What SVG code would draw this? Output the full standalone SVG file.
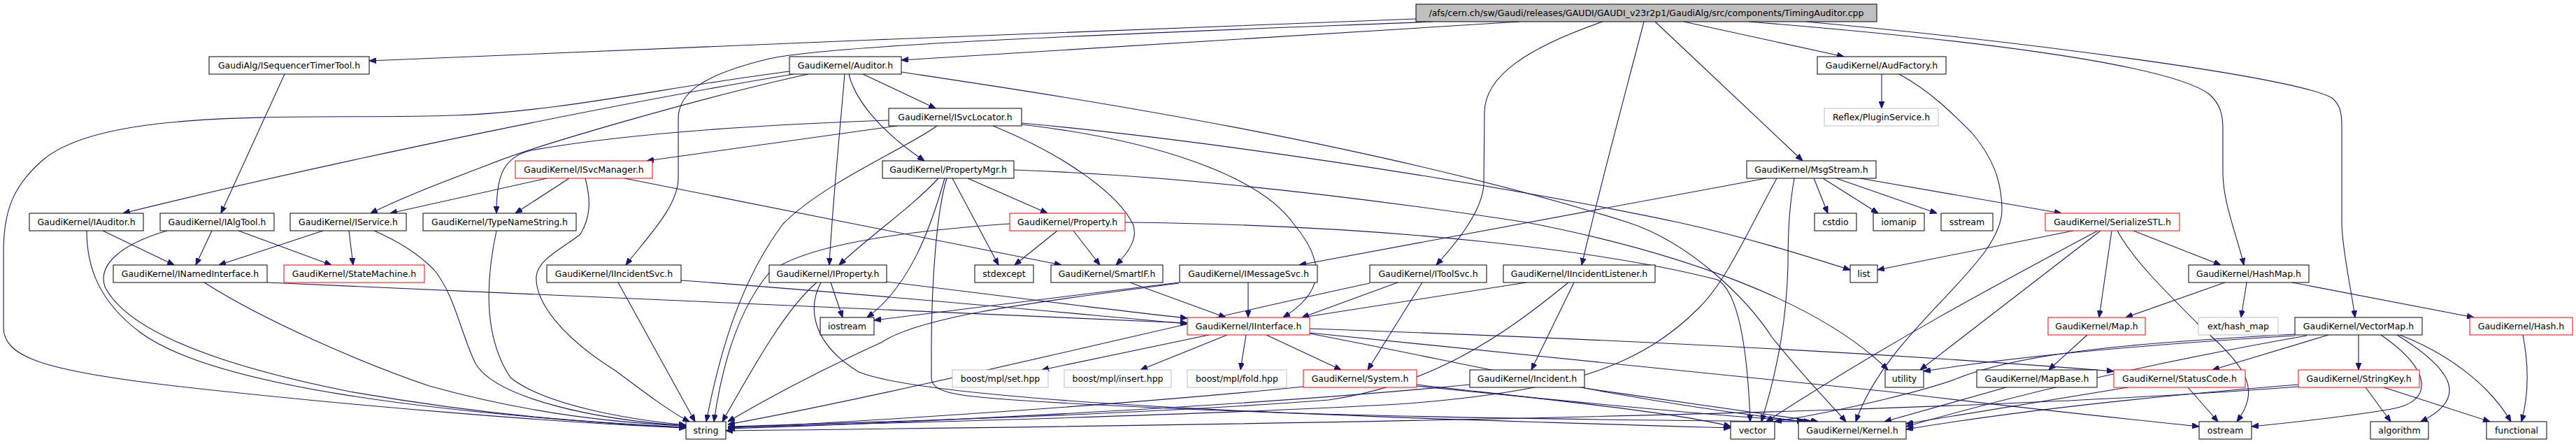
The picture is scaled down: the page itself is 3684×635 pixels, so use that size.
<svg xmlns="http://www.w3.org/2000/svg" width="3684" height="635" viewBox="0 0 3684 635">
<style>
.n rect{fill:#fff;stroke:#000;stroke-width:1}
.n.r rect{stroke:#ff0000}
.n.g rect{stroke:#bfbfbf}
.n.root rect{fill:#bfbfbf}
.n text{font-family:"DejaVu Sans",sans-serif;font-size:12.5px;text-anchor:middle;fill:#000}
#edges path{fill:none;stroke:#191970;stroke-width:1.1;marker-end:url(#a)}
</style>
<defs>
<marker id="a" viewBox="0 0 10 8" refX="10" refY="4" markerWidth="10" markerHeight="8" markerUnits="userSpaceOnUse" orient="auto"><path d="M0,0 L10,4 L0,8 z" fill="#191970" stroke="#191970" stroke-width="1"/></marker>
</defs>
<rect width="3684" height="635" fill="#fff"/>
<g id="edges">
<path d="M2025,27 C1700,37 900,72 528,87"/>
<path d="M2173,31 C1900,48 1550,70 1289,86"/>
<path d="M2049,31 C1700,45 1200,62 1100,84 C1000,108 970,135 970,170 L970,255 C970,295 925,340 895,379"/>
<path d="M2292,31 C2180,70 2124,110 2123,160 L2122,262 C2121,300 2085,345 2054,379"/>
<path d="M2351,31 C2320,150 2290,260 2262,379"/>
<path d="M2367,31 L2578,230"/>
<path d="M2408,31 L2637,81"/>
<path d="M2501,31 C2800,55 3100,90 3160,135 C3176,150 3179,165 3179,185 L3179,247 C3179,290 3200,340 3209,379"/>
<path d="M2583,31 C2900,60 3280,110 3335,140 C3347,150 3349,162 3349,180 L3349,320 C3350,360 3362,410 3368,454"/>
<path d="M407,106 L316,305"/>
<path d="M1135,106 C900,145 500,225 176,305"/>
<path d="M1156,106 C1000,140 760,210 700,235 C640,258 580,280 530,305"/>
<path d="M782,255 L558,305"/>
<path d="M1234,106 L1338,155"/>
<path d="M1214,106 C1222,140 1255,185 1322,230"/>
<path d="M1208,106 C1200,200 1190,300 1186,379"/>
<path d="M1129,102 C950,125 800,160 650,165 C450,172 150,150 60,230 C20,265 5,300 5,360 L5,468 C5,510 60,530 250,552 C500,580 800,605 981,612"/>
<path d="M1289,103 C1500,135 1950,200 2328,318 C2420,348 2500,430 2534,482 C2580,540 2620,580 2640,603"/>
<path d="M1271,172 C1100,178 900,190 760,215 C715,225 710,260 710,305"/>
<path d="M1283,180 L925,230"/>
<path d="M1340,180 C1300,210 1180,260 1120,320 C1060,400 1030,500 1010,603"/>
<path d="M1420,180 C1530,225 1600,280 1620,320 C1628,340 1615,360 1596,379"/>
<path d="M1461,176 C1700,198 2100,255 2400,318 C2500,340 2580,365 2646,386"/>
<path d="M1461,178 C1650,200 1800,250 1850,320 C1900,380 1890,420 1835,454"/>
<path d="M1342,255 C1300,300 1240,340 1200,379"/>
<path d="M1351,255 C1330,330 1300,410 1240,454"/>
<path d="M1354,255 C1340,300 1332,400 1332,500 L1332,540 C1332,560 1360,566 1450,572 C1800,595 2200,600 2585,603"/>
<path d="M1362,255 L1428,379"/>
<path d="M1384,255 L1498,305"/>
<path d="M1450,243 C1650,250 1900,275 2183,318 C2400,360 2600,430 2700,529"/>
<path d="M814,255 L737,305"/>
<path d="M837,255 C845,285 845,310 830,335 C805,355 770,370 767,395 C765,430 800,480 880,530 C920,560 960,590 986,603"/>
<path d="M893,255 L1518,379"/>
<path d="M147,330 L249,379"/>
<path d="M124,330 C124,380 140,430 200,475 C300,550 600,590 981,612"/>
<path d="M303,330 L280,379"/>
<path d="M341,330 L474,379"/>
<path d="M239,330 C170,350 140,380 150,410 C180,470 300,520 500,560 C700,595 850,605 981,611"/>
<path d="M462,330 L313,379"/>
<path d="M499,330 L505,379"/>
<path d="M535,330 C570,345 600,365 620,385 C650,420 660,480 680,520 C710,570 850,600 981,609"/>
<path d="M382,404 C900,430 1400,445 1698,462"/>
<path d="M292,404 C380,460 520,520 614,552 C750,590 880,605 981,609"/>
<path d="M710,330 C695,400 690,480 730,540 C780,580 900,600 981,608"/>
<path d="M884,404 L994,603"/>
<path d="M974,401 C1300,425 1550,450 1698,463"/>
<path d="M1268,403 C1450,425 1600,445 1698,455"/>
<path d="M1168,404 C1125,440 1080,520 1033,603"/>
<path d="M1174,404 C1155,440 1160,490 1228,532 C1350,580 2000,598 2475,612"/>
<path d="M1188,404 L1205,454"/>
<path d="M1512,330 L1451,379"/>
<path d="M1535,330 L1573,379"/>
<path d="M1444,320 C1300,330 1150,350 1100,390 C1050,450 1030,540 1021,603"/>
<path d="M1609,318 C2000,322 2300,360 2456,400 C2490,420 2500,520 2503,603"/>
<path d="M1616,404 L1753,454"/>
<path d="M1785,404 L1785,454"/>
<path d="M1686,404 L1250,458"/>
<path d="M1686,405 C1500,430 1320,450 1260,490 C1150,540 1080,580 1041,603"/>
<path d="M1999,404 L1862,454"/>
<path d="M1959,405 C1700,460 1300,560 1041,607"/>
<path d="M2034,404 L1956,529"/>
<path d="M2183,404 L1862,454"/>
<path d="M2251,404 L2190,529"/>
<path d="M2243,404 C2150,480 2050,550 1900,572 C1600,595 1200,605 1041,610"/>
<path d="M1729,479 L1490,529"/>
<path d="M1755,479 L1631,529"/>
<path d="M1782,479 L1774,529"/>
<path d="M1811,479 L1918,529"/>
<path d="M1873,470 C2300,485 2700,505 3023,531"/>
<path d="M1873,476 C2200,510 2456,535 2700,560 C2900,585 3050,600 3145,610"/>
<path d="M1873,477 C2100,520 2300,570 2580,603"/>
<path d="M1864,553 C1600,580 1200,605 1041,612"/>
<path d="M2026,550 C2200,570 2400,590 2475,610"/>
<path d="M2026,552 C2300,580 2500,598 2590,603"/>
<path d="M2102,550 C1800,580 1300,605 1041,613"/>
<path d="M2266,555 C2400,575 2550,595 2600,603"/>
<path d="M2691,106 L2691,155"/>
<path d="M2716,106 C2760,130 2790,160 2820,190 C2850,225 2863,260 2863,300 C2863,380 2700,470 2654,603"/>
<path d="M2526,255 L1858,379"/>
<path d="M2541,255 C2500,330 2470,400 2430,440 C2350,520 2250,560 2000,578 C1700,595 1200,607 1041,611"/>
<path d="M2566,255 C2560,290 2557,320 2557,380 C2555,450 2545,520 2519,603"/>
<path d="M2594,255 L2614,305"/>
<path d="M2607,255 L2686,305"/>
<path d="M2626,255 L2770,305"/>
<path d="M2660,255 L2948,305"/>
<path d="M2965,330 L2685,386"/>
<path d="M3000,330 C2850,410 2700,490 2526,603"/>
<path d="M3004,330 L2746,529"/>
<path d="M3020,330 L3002,454"/>
<path d="M3028,330 C3050,370 3090,410 3150,470 C3220,530 3230,560 3199,603"/>
<path d="M3051,330 L3176,379"/>
<path d="M3182,404 L3040,454"/>
<path d="M3213,404 L3205,454"/>
<path d="M3278,404 L3538,454"/>
<path d="M2985,479 L2930,529"/>
<path d="M2869,554 L2695,603"/>
<path d="M3043,554 L2726,606"/>
<path d="M3129,554 L3172,603"/>
<path d="M3330,479 L3164,529"/>
<path d="M3373,479 L3373,529"/>
<path d="M3405,479 C3480,530 3480,575 3420,585 C3350,597 3270,605 3220,610"/>
<path d="M3428,479 C3510,530 3530,570 3462,603"/>
<path d="M3432,479 C3500,505 3560,550 3591,603"/>
<path d="M3282,478 C3100,488 2900,500 2797,542 C2760,556 2650,585 2538,603"/>
<path d="M3282,480 C3000,497 2850,515 2751,531"/>
<path d="M3299,480 C3100,515 2900,560 2726,610"/>
<path d="M3383,554 L3419,603"/>
<path d="M3409,554 L3561,603"/>
<path d="M3287,550 C3100,565 2900,585 2726,614"/>
<path d="M3287,553 C3000,575 2500,600 1038,616"/>
<path d="M3608,479 C3618,530 3615,570 3606,603"/>
</g>
<g id="n_root" class="n root"><rect x="2025" y="6" width="659" height="25"/><text x="2354.5" y="23">/afs/cern.ch/sw/Gaudi/releases/GAUDI/GAUDI_v23r2p1/GaudiAlg/src/components/TimingAuditor.cpp</text></g>
<g id="n_istt" class="n"><rect x="299" y="81" width="229" height="25"/><text x="413.5" y="98">GaudiAlg/ISequencerTimerTool.h</text></g>
<g id="n_auditor" class="n"><rect x="1129" y="81" width="160" height="25"/><text x="1209" y="98">GaudiKernel/Auditor.h</text></g>
<g id="n_audfactory" class="n"><rect x="2599" y="81" width="184" height="25"/><text x="2691" y="98">GaudiKernel/AudFactory.h</text></g>
<g id="n_isvclocator" class="n"><rect x="1271" y="155" width="190" height="25"/><text x="1366" y="172">GaudiKernel/ISvcLocator.h</text></g>
<g id="n_plugin" class="n g"><rect x="2609" y="155" width="163" height="25"/><text x="2690.5" y="172">Reflex/PluginService.h</text></g>
<g id="n_isvcmanager" class="n r"><rect x="737" y="230" width="196" height="25"/><text x="835" y="247">GaudiKernel/ISvcManager.h</text></g>
<g id="n_propertymgr" class="n"><rect x="1262" y="230" width="188" height="25"/><text x="1356" y="247">GaudiKernel/PropertyMgr.h</text></g>
<g id="n_msgstream" class="n"><rect x="2498" y="230" width="185" height="25"/><text x="2590.5" y="247">GaudiKernel/MsgStream.h</text></g>
<g id="n_iauditor" class="n"><rect x="42" y="305" width="163" height="25"/><text x="123.5" y="322">GaudiKernel/IAuditor.h</text></g>
<g id="n_ialgtool" class="n"><rect x="229" y="305" width="163" height="25"/><text x="310.5" y="322">GaudiKernel/IAlgTool.h</text></g>
<g id="n_iservice" class="n"><rect x="415" y="305" width="166" height="25"/><text x="498" y="322">GaudiKernel/IService.h</text></g>
<g id="n_typename" class="n"><rect x="605" y="305" width="219" height="25"/><text x="714.5" y="322">GaudiKernel/TypeNameString.h</text></g>
<g id="n_property" class="n r"><rect x="1444" y="305" width="165" height="25"/><text x="1526.5" y="322">GaudiKernel/Property.h</text></g>
<g id="n_cstdio" class="n"><rect x="2595" y="305" width="60" height="25"/><text x="2625" y="322">cstdio</text></g>
<g id="n_iomanip" class="n"><rect x="2679" y="305" width="73" height="25"/><text x="2715.5" y="322">iomanip</text></g>
<g id="n_sstream" class="n"><rect x="2776" y="305" width="74" height="25"/><text x="2813" y="322">sstream</text></g>
<g id="n_serialize" class="n r"><rect x="2925" y="305" width="192" height="25"/><text x="3021" y="322">GaudiKernel/SerializeSTL.h</text></g>
<g id="n_inamed" class="n"><rect x="162" y="379" width="220" height="25"/><text x="272" y="396">GaudiKernel/INamedInterface.h</text></g>
<g id="n_statemachine" class="n r"><rect x="406" y="379" width="201" height="25"/><text x="506.5" y="396">GaudiKernel/StateMachine.h</text></g>
<g id="n_iincsvc" class="n"><rect x="782" y="379" width="192" height="25"/><text x="878" y="396">GaudiKernel/IIncidentSvc.h</text></g>
<g id="n_iproperty" class="n"><rect x="1100" y="379" width="168" height="25"/><text x="1184" y="396">GaudiKernel/IProperty.h</text></g>
<g id="n_stdexcept" class="n"><rect x="1394" y="379" width="84" height="25"/><text x="1436" y="396">stdexcept</text></g>
<g id="n_smartif" class="n"><rect x="1503" y="379" width="160" height="25"/><text x="1583" y="396">GaudiKernel/SmartIF.h</text></g>
<g id="n_imsgsvc" class="n"><rect x="1687" y="379" width="197" height="25"/><text x="1785.5" y="396">GaudiKernel/IMessageSvc.h</text></g>
<g id="n_itoolsvc" class="n"><rect x="1959" y="379" width="167" height="25"/><text x="2042.5" y="396">GaudiKernel/IToolSvc.h</text></g>
<g id="n_iinclist" class="n"><rect x="2150" y="379" width="217" height="25"/><text x="2258.5" y="396">GaudiKernel/IIncidentListener.h</text></g>
<g id="n_list" class="n"><rect x="2646" y="379" width="39" height="25"/><text x="2665.5" y="396">list</text></g>
<g id="n_hashmap" class="n"><rect x="3130" y="379" width="172" height="25"/><text x="3216" y="396">GaudiKernel/HashMap.h</text></g>
<g id="n_iostream" class="n"><rect x="1173" y="454" width="77" height="25"/><text x="1211.5" y="471">iostream</text></g>
<g id="n_iinterface" class="n r"><rect x="1698" y="454" width="175" height="25"/><text x="1785.5" y="471">GaudiKernel/IInterface.h</text></g>
<g id="n_map" class="n r"><rect x="2929" y="454" width="139" height="25"/><text x="2998.5" y="471">GaudiKernel/Map.h</text></g>
<g id="n_exthash" class="n g"><rect x="3144" y="454" width="114" height="25"/><text x="3201" y="471">ext/hash_map</text></g>
<g id="n_vectormap" class="n"><rect x="3282" y="454" width="182" height="25"/><text x="3373" y="471">GaudiKernel/VectorMap.h</text></g>
<g id="n_hash" class="n r"><rect x="3532" y="454" width="147" height="25"/><text x="3605.5" y="471">GaudiKernel/Hash.h</text></g>
<g id="n_bset" class="n g"><rect x="1362" y="529" width="137" height="25"/><text x="1430.5" y="546">boost/mpl/set.hpp</text></g>
<g id="n_binsert" class="n g"><rect x="1522" y="529" width="153" height="25"/><text x="1598.5" y="546">boost/mpl/insert.hpp</text></g>
<g id="n_bfold" class="n g"><rect x="1698" y="529" width="142" height="25"/><text x="1769" y="546">boost/mpl/fold.hpp</text></g>
<g id="n_system" class="n r"><rect x="1864" y="529" width="162" height="25"/><text x="1945" y="546">GaudiKernel/System.h</text></g>
<g id="n_incident" class="n"><rect x="2102" y="529" width="164" height="25"/><text x="2184" y="546">GaudiKernel/Incident.h</text></g>
<g id="n_utility" class="n"><rect x="2696" y="529" width="55" height="25"/><text x="2723.5" y="546">utility</text></g>
<g id="n_mapbase" class="n"><rect x="2827" y="529" width="172" height="25"/><text x="2913" y="546">GaudiKernel/MapBase.h</text></g>
<g id="n_statuscode" class="n r"><rect x="3023" y="529" width="188" height="25"/><text x="3117" y="546">GaudiKernel/StatusCode.h</text></g>
<g id="n_stringkey" class="n r"><rect x="3287" y="529" width="173" height="25"/><text x="3373.5" y="546">GaudiKernel/StringKey.h</text></g>
<g id="n_string" class="n"><rect x="981" y="603" width="57" height="25"/><text x="1009.5" y="620">string</text></g>
<g id="n_vector" class="n"><rect x="2475" y="603" width="63" height="25"/><text x="2506.5" y="620">vector</text></g>
<g id="n_kernel" class="n"><rect x="2572" y="603" width="154" height="25"/><text x="2649" y="620">GaudiKernel/Kernel.h</text></g>
<g id="n_ostream" class="n"><rect x="3145" y="603" width="75" height="25"/><text x="3182.5" y="620">ostream</text></g>
<g id="n_algorithm" class="n"><rect x="3390" y="603" width="83" height="25"/><text x="3431.5" y="620">algorithm</text></g>
<g id="n_functional" class="n"><rect x="3556" y="603" width="86" height="25"/><text x="3599" y="620">functional</text></g>
</svg>
